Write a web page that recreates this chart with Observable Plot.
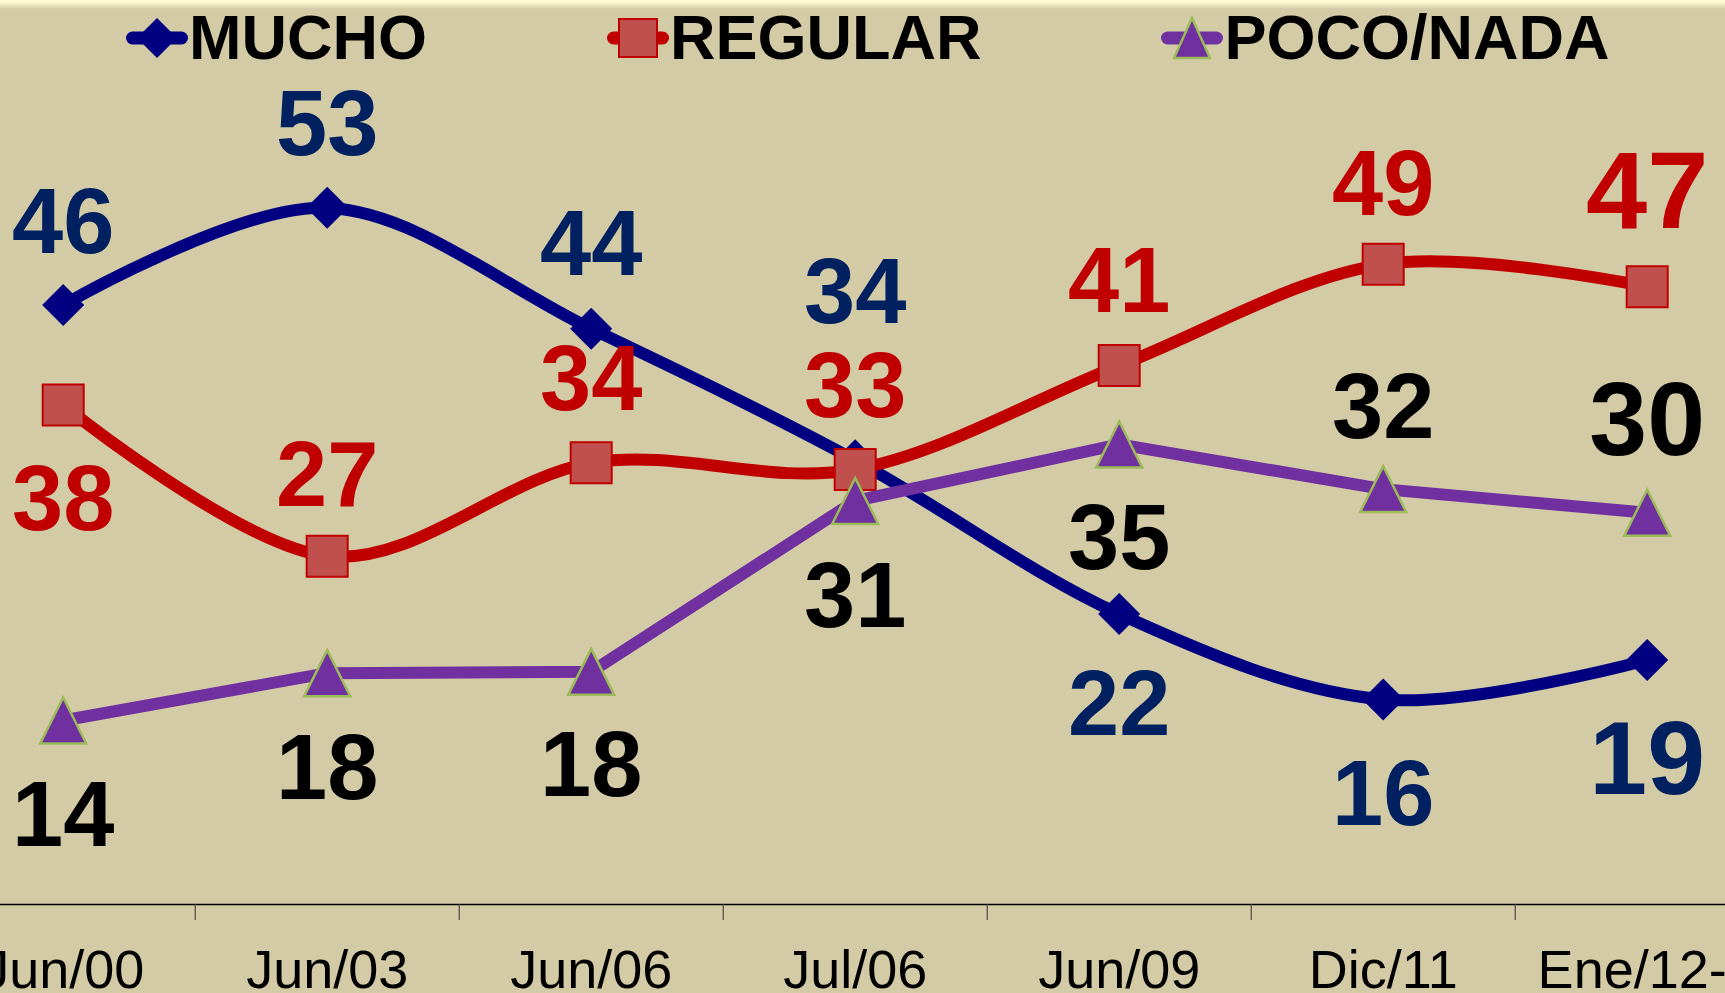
<!DOCTYPE html>
<html>
<head>
<meta charset="utf-8">
<script src="https://cdn.jsdelivr.net/npm/d3@7"></script>
<script src="https://cdn.jsdelivr.net/npm/@observablehq/plot@0.6"></script>
<style>
  html, body { margin: 0; padding: 0; }
  body {
    width: 1725px; height: 993px; overflow: hidden;
    background: linear-gradient(to bottom, #FFFBD6 0px, #FBF5CE 3px, #D3CBA6 9px, #D3CBA6 100%);
    font-family: "Liberation Sans", Arial, sans-serif;
  }
  #wrap { position: relative; width: 1725px; height: 993px; }
  #legend {
    position: absolute; top: 6px; left: 126px; height: 63px;
    display: flex; align-items: center; gap: 180px;
  }
  .item { display: flex; align-items: center; }
  .item span { font-weight: bold; font-size: 63px; line-height: 63px; color: #000; margin-left: 1px; }
</style>
</head>
<body>
<div id="wrap">
  <div id="chart"></div>
  <div id="legend"></div>
</div>
<script>
// ---------- DATA ----------
const categories = ["Jun/00", "Jun/03", "Jun/06", "Jul/06", "Jun/09", "Dic/11", "Ene/12-1"];
const seriesNames = ["MUCHO", "REGULAR", "POCO/NADA"];
const mucho    = [45.6, 53.0, 43.8, 33.8, 22.1, 15.6, 18.6];
const regular  = [38.0, 26.5, 33.6, 33.1, 41.0, 48.7, 47.0];
const pocoNada = [14.0, 17.6, 17.7, 30.7, 35.0, 31.6, 29.8];

// ---------- LAYOUT / STYLE ----------
const labelOffset = {
  "MUCHO":     [-85, -86, -87, -170, 88, 93, 97],
  "REGULAR":   [92, -83, -86, -85, -87, -82, -98],
  "POCO/NADA": [93, 93, 91, 93, 92, -84, -95]
};
const labelSize = {
  "MUCHO":     [92, 92, 92, 92, 92, 92, 104],
  "REGULAR":   [92, 92, 92, 92, 92, 92, 110],
  "POCO/NADA": [92, 92, 92, 92, 92, 92, 104]
};
const style = {
  "MUCHO":     {line: "#000080", fill: "#000080", stroke: "none", strokeWidth: 0, label: "#002060", curve: "cardinal", r: 21},
  "REGULAR":   {line: "#C00000", fill: "#C0504D", stroke: "#C00000", strokeWidth: 2, label: "#C00000", curve: "cardinal", r: 20.5},
  "POCO/NADA": {line: "#7030A0", fill: "#7030A0", stroke: "#9BBB59", strokeWidth: 2.5, label: "#000000", curve: "linear", r: 23}
};

const diamondSym = {draw(ctx, size) { const r = Math.sqrt(size / Math.PI); ctx.moveTo(0, -r); ctx.lineTo(r, 0); ctx.lineTo(0, r); ctx.lineTo(-r, 0); ctx.closePath(); }};
const squareSym  = {draw(ctx, size) { const r = Math.sqrt(size / Math.PI); ctx.moveTo(-r, -r); ctx.lineTo(r, -r); ctx.lineTo(r, r); ctx.lineTo(-r, r); ctx.closePath(); }};
const triSym     = {draw(ctx, size) { const r = Math.sqrt(size / Math.PI); ctx.moveTo(0, -r); ctx.lineTo(r, r); ctx.lineTo(-r, r); ctx.closePath(); }};
const symbols = {"MUCHO": diamondSym, "REGULAR": squareSym, "POCO/NADA": triSym};

const valuesBySeries = {"MUCHO": mucho, "REGULAR": regular, "POCO/NADA": pocoNada};
const fmt = d3.format(".0f");
const idx = d3.range(categories.length);
const boundaries = idx.slice(0, -1).map(i => i + 0.5);

const marks = [];
marks.push(Plot.ruleY([0], {stroke: "#000", strokeWidth: 1.5}));
marks.push(Plot.axisX({ticks: boundaries, tickSize: 16, tickFormat: () => "", label: null, stroke: "#333", strokeWidth: 1}));
marks.push(Plot.axisX({ticks: idx, tickSize: 0, tickPadding: 44.7, tickFormat: i => categories[i], label: null,
  fontSize: 54, fill: "#000", fontFamily: "Liberation Sans, Arial, sans-serif"}));

for (const name of seriesNames) {
  const s = style[name];
  const rows = valuesBySeries[name].map((v, i) => ({i, v}));
  marks.push(Plot.line(rows, {x: "i", y: "v", curve: s.curve, stroke: s.line, strokeWidth: 12,
    strokeLinejoin: "round", strokeLinecap: "round"}));
  marks.push(Plot.dot(rows, {x: "i", y: "v", symbol: symbols[name], r: s.r, fill: s.fill,
    stroke: s.stroke, strokeWidth: s.strokeWidth}));
}
for (const name of seriesNames) {
  const s = style[name];
  valuesBySeries[name].forEach((v, i) => {
    const fs = labelSize[name][i];
    marks.push(Plot.text([{i, v}], {x: "i", y: "v", text: d => fmt(d.v), fill: s.label,
      fontSize: fs, fontWeight: "bold", fontFamily: "Liberation Sans, Arial, sans-serif",
      textAnchor: "middle", lineAnchor: "middle", dy: labelOffset[name][i] + 0.038 * fs}));
  });
}

const chart = Plot.plot({
  width: 1725, height: 993,
  marginTop: 0, marginRight: 0, marginBottom: 89, marginLeft: 0,
  style: {background: "transparent", fontFamily: "Liberation Sans, Arial, sans-serif"},
  x: {type: "linear", domain: [0, 6], range: [62.7, 1646.7], axis: null, label: null},
  y: {domain: [0, 60], range: [904, 904 - 60 * 13.145], axis: null, label: null},
  marks
});
document.getElementById("chart").appendChild(chart);

// ---------- LEGEND ----------
const legendMarker = {
  "MUCHO": `<path d="M0,-20L20,0L0,20L-20,0Z" fill="#000080"/>`,
  "REGULAR": `<rect x="-19" y="-19" width="38" height="38" fill="#C0504D" stroke="#C00000" stroke-width="2"/>`,
  "POCO/NADA": `<path d="M0,-20L18,20L-18,20Z" fill="#7030A0" stroke="#9BBB59" stroke-width="2.5"/>`
};
const legend = document.getElementById("legend");
for (const name of seriesNames) {
  const s = style[name];
  const div = document.createElement("div");
  div.className = "item";
  div.innerHTML = `<svg width="62" height="46" viewBox="-31 -23 62 46" style="overflow:visible">
      <line x1="-24.5" x2="24.5" y1="0" y2="0" stroke="${s.line}" stroke-width="13" stroke-linecap="round"/>
      ${legendMarker[name]}</svg><span>${name}</span>`;
  legend.appendChild(div);
}
</script>
</body>
</html>
